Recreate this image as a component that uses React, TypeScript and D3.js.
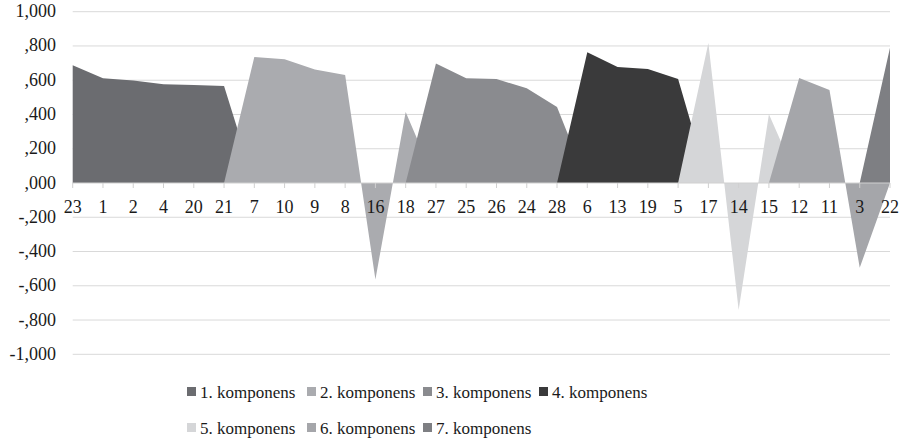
import React from "react";
import * as d3 from "d3";

const categories = ["23","1","2","4","20","21","7","10","9","8","16","18","27","25","26","24","28","6","13","19","5","17","14","15","12","11","3","22"];

const series1 = [688,612,598,577,572,566,0,0,0,0,0,0,0,0,0,0,0,0,0,0,0,0,0,0,0,0,0,0];
const series2 = [0,0,0,0,0,0,735,722,663,630,-563,414,0,0,0,0,0,0,0,0,0,0,0,0,0,0,0,0];
const series3 = [0,0,0,0,0,0,0,0,0,0,0,0,697,612,607,553,443,0,0,0,0,0,0,0,0,0,0,0];
const series4 = [0,0,0,0,0,0,0,0,0,0,0,0,0,0,0,0,0,764,677,665,607,0,0,0,0,0,0,0];
const series5 = [0,0,0,0,0,0,0,0,0,0,0,0,0,0,0,0,0,0,0,0,0,817,-742,402,0,0,0,0];
const series6 = [0,0,0,0,0,0,0,0,0,0,0,0,0,0,0,0,0,0,0,0,0,0,0,0,613,543,-495,0];
const series7 = [0,0,0,0,0,0,0,0,0,0,0,0,0,0,0,0,0,0,0,0,0,0,0,0,0,0,0,790];

const seriesNames = ["1. komponens","2. komponens","3. komponens","4. komponens","5. komponens","6. komponens","7. komponens"];
const seriesColors = ["#6b6c70","#aaabaf","#8a8b8f","#3a3a3b","#d5d6d8","#a5a6aa","#7e7f83"];
const yTicks = [1000,800,600,400,200,0,-200,-400,-600,-800,-1000];

const allSeries = [series1, series2, series3, series4, series5, series6, series7];

const fmt = (v: number) => {
  if (v === 0) return ",000";
  const a = Math.abs(v);
  const s = a >= 1000 ? "1,000" : "," + String(a).padStart(3, "0");
  return (v < 0 ? "-" : "") + s;
};

export default function App() {
  const W = 905, H = 439;
  const x = d3.scalePoint<string>().domain(categories).range([72.7, 890]);
  const y = d3.scaleLinear().domain([-1000, 1000]).range([354.3, 11.7]);
  const font = "'Liberation Serif', 'DejaVu Serif', 'Times New Roman', serif";

  const area = d3.area<number>()
    .x((_, i) => x(categories[i]) as number)
    .y0(y(0))
    .y1((d) => y(d));

  const legendX = [187, 307, 423, 539];
  const legendRows = [392, 428];
  const textStyle = { fontFamily: font };

  return (
    <svg width={W} height={H} style={{ position: "absolute", left: 0, top: 0, background: "#fff", fontFamily: font }}>
      {yTicks.filter((t) => t !== 0).map((t) => (
        <line key={"g" + t} x1={x(categories[0])} x2={x(categories[categories.length - 1])} y1={y(t)} y2={y(t)} stroke="#d9d9d9" strokeWidth={1} />
      ))}
      {allSeries.map((s, i) => (
        <path key={"a" + i} d={area(s) || ""} fill={seriesColors[i]} />
      ))}
      <line x1={x(categories[0])} x2={x(categories[categories.length - 1])} y1={y(0)} y2={y(0)} stroke="#d0d0d0" strokeWidth={1} />
      {categories.map((c) => (
        <line key={"t" + c} x1={x(c)} x2={x(c)} y1={y(0)} y2={y(0) + 5} stroke="#d0d0d0" strokeWidth={1} />
      ))}
      {categories.map((c) => (
        <text key={"c" + c} style={textStyle} x={x(c)} y={213} textAnchor="middle" fontSize={18} fill="#1a1a1a">{c}</text>
      ))}
      {yTicks.map((t) => (
        <text key={"y" + t} style={textStyle} x={56} y={y(t) + 5.5} textAnchor="end" fontSize={18} fill="#1a1a1a">{fmt(t)}</text>
      ))}
      {seriesNames.map((n, i) => {
        const row = i < 4 ? 0 : 1;
        const col = i < 4 ? i : i - 4;
        const lx = legendX[col];
        const ly = legendRows[row];
        return (
          <g key={"l" + i}>
            <rect x={lx} y={ly - 5} width={9} height={9} fill={seriesColors[i]} />
            <text style={textStyle} x={lx + 13} y={ly + 6} fontSize={17} fill="#1a1a1a">{n}</text>
          </g>
        );
      })}
    </svg>
  );
}
